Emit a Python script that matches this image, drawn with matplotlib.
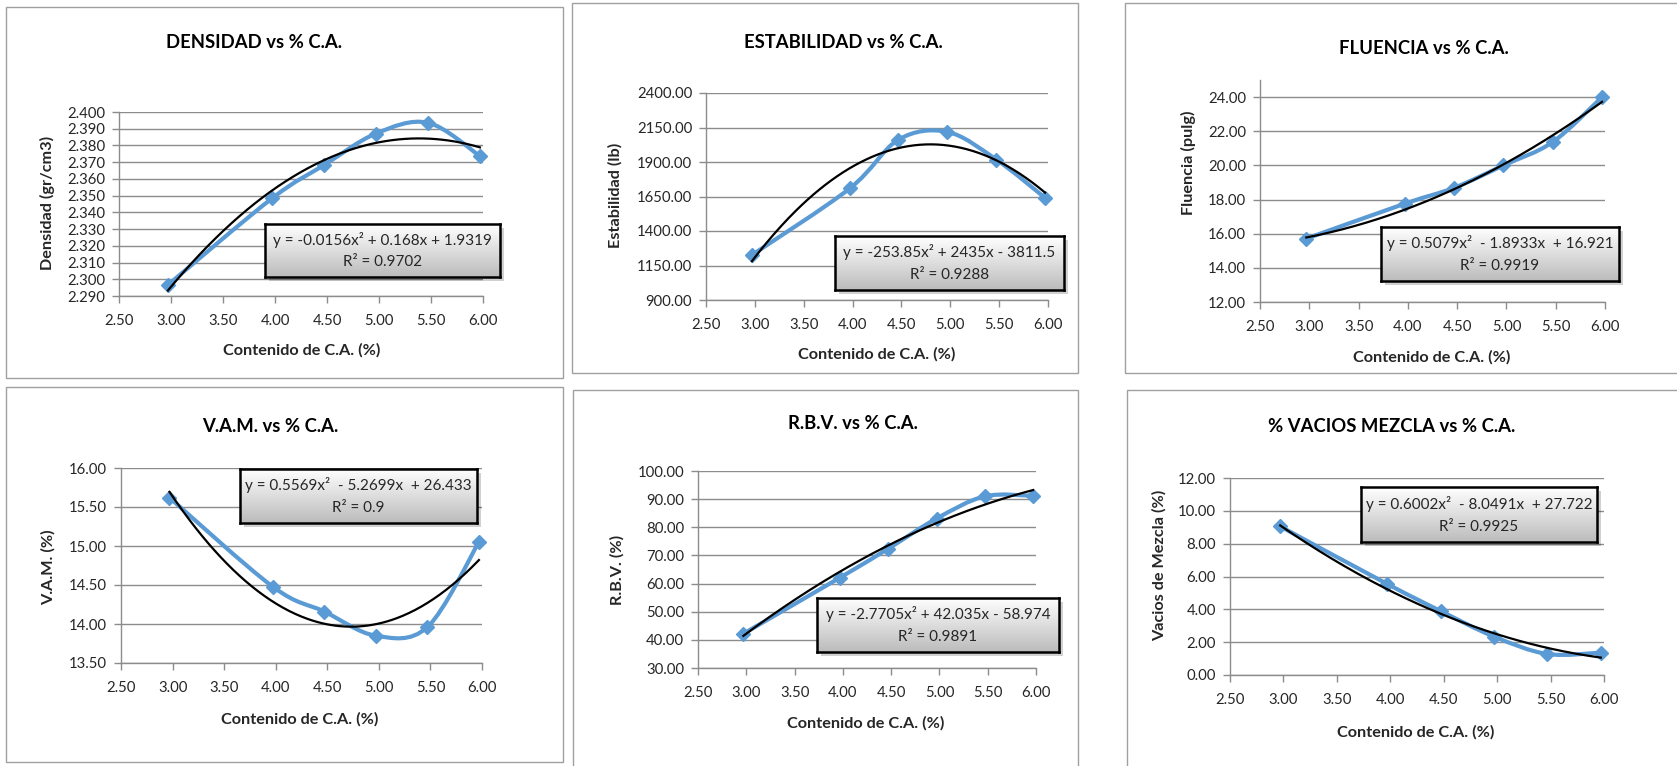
import numpy as np
import matplotlib
matplotlib.use("Agg")
import matplotlib.pyplot as plt
from matplotlib.path import Path
from matplotlib.patches import PathPatch, Rectangle
from matplotlib.ticker import FormatStrFormatter
from matplotlib.colors import LinearSegmentedColormap

plt.rcParams['font.family'] = ['Lato', 'DejaVu Sans']

# ---------------- data ----------------
ca = [2.97, 3.97, 4.47, 4.97, 5.47, 5.97]
xticks = [2.50, 3.00, 3.50, 4.00, 4.50, 5.00, 5.50, 6.00]

densidad = [2.2966, 2.3483, 2.3682, 2.3871, 2.3936, 2.3737]
estabilidad = [1226, 1708, 2062, 2118, 1918, 1640]
fluencia = [15.71, 17.76, 18.69, 20.00, 21.37, 24.00]
vam = [15.62, 14.48, 14.16, 13.85, 13.96, 15.05]
rbv = [42.2, 62.1, 72.4, 83.1, 91.0, 91.2]
vacios = [9.05, 5.55, 3.90, 2.34, 1.28, 1.36]

coef_densidad = [-0.0156, 0.168, 1.9319]
coef_estabilidad = [-253.85, 2435, -3811.5]
coef_fluencia = [0.5079, -1.8933, 16.921]
coef_vam = [0.5569, -5.2699, 26.433]
coef_rbv = [-2.7705, 42.035, -58.974]
coef_vacios = [0.6002, -8.0491, 27.722]

titles = ["DENSIDAD vs % C.A.", "ESTABILIDAD vs % C.A.", "FLUENCIA vs % C.A.",
          "V.A.M. vs % C.A.", "R.B.V. vs % C.A.", "% VACIOS MEZCLA vs % C.A."]
ylabels = ["Densidad (gr/cm3)", "Estabilidad (lb)", "Fluencia (pulg)",
           "V.A.M. (%)", "R.B.V. (%)", "Vacios de Mezcla (%)"]
xlabel = "Contenido de C.A. (%)"
eq_texts = [("y = -0.0156x\u00b2 + 0.168x + 1.9319", "R\u00b2 = 0.9702"),
            ("y = -253.85x\u00b2 + 2435x - 3811.5", "R\u00b2 = 0.9288"),
            ("y = 0.5079x\u00b2  - 1.8933x  + 16.921", "R\u00b2 = 0.9919"),
            ("y = 0.5569x\u00b2  - 5.2699x  + 26.433", "R\u00b2 = 0.9"),
            ("y = -2.7705x\u00b2 + 42.035x - 58.974", "R\u00b2 = 0.9891"),
            ("y = 0.6002x\u00b2  - 8.0491x  + 27.722", "R\u00b2 = 0.9925")]

yticks_list = [np.round(np.arange(2.29, 2.4001, 0.01), 3),
               np.arange(900, 2401, 250),
               np.arange(12, 24.01, 2),
               np.arange(13.5, 16.01, 0.5),
               np.arange(30, 100.01, 10),
               np.arange(0, 12.01, 2)]
ylims = [(2.29, 2.40), (900, 2400), (12, 25), (13.5, 16), (30, 100), (0, 12)]
yfmts = ['%.3f', '%.2f', '%.2f', '%.2f', '%.2f', '%.2f']
series = [densidad, estabilidad, fluencia, vam, rbv, vacios]
coefs = [coef_densidad, coef_estabilidad, coef_fluencia, coef_vam, coef_rbv, coef_vacios]

# ---------------- layout (pixels) ----------------
W, H = 1677, 766
frames = [(6, 7, 563, 378), (572, 3, 1078, 373), (1125, 3, 1680, 373),
          (6, 387, 563, 762), (573, 390, 1078, 770), (1127, 390, 1680, 770)]
axrects = [(119, 112, 483, 296), (706, 93, 1048, 300), (1260, 80, 1605, 302),
           (121, 468, 482, 663), (698, 471, 1036, 668), (1230, 478, 1604, 675)]
title_pos = [(254, 43), (843, 42), (1424, 49), (270, 426), (853, 423), (1392, 426)]
xlabel_pos = [(302, 350), (877, 354), (1432, 357), (300, 719), (866, 723), (1416, 732)]
ylabel_pos = [(47, 203), (615, 195), (1188, 163), (48, 567), (617, 570), (1159, 565)]
boxes = [(265, 224, 500, 277), (835, 236, 1064, 290), (1381, 227, 1619, 281),
         (240, 469, 477, 523), (817, 598, 1059, 652), (1361, 487, 1597, 542)]

BLUE = '#5B9BD5'
GRID = '#8C8C8C'
TXT = '#262626'

fig = plt.figure(figsize=(W / 100, H / 100), dpi=100)
fig.patch.set_facecolor('white')
renderer = fig.canvas.get_renderer()


def fit_size(s, target_px, weight='normal'):
    t = fig.text(0, 0, s, fontsize=10, fontweight=weight)
    w = t.get_window_extent(renderer).width
    t.remove()
    return 10 * target_px / w


FS_TITLE = fit_size("DENSIDAD vs % C.A.", 176, 'bold')
FS_XLAB = fit_size(xlabel, 158, 'bold')
FS_TICK = fit_size("2.50", 29.5)
FS_EQ = fit_size("y = -253.85x\u00b2 + 2435x - 3811.5", 212)


def fx(x):
    return x / W


def fy(y):
    return 1 - y / H


def smooth_path(xs, ys):
    pts = np.column_stack([xs, ys]).astype(float)
    n = len(pts)
    verts = [pts[0]]
    codes = [Path.MOVETO]
    for i in range(n - 1):
        p0 = pts[i - 1] if i > 0 else pts[i]
        p1 = pts[i]
        p2 = pts[i + 1]
        p3 = pts[i + 2] if i + 2 < n else pts[i + 1]
        c1 = p1 + (p2 - p0) / 6.0
        c2 = p2 - (p3 - p1) / 6.0
        verts += [c1, c2, p2]
        codes += [Path.CURVE4] * 3
    return Path(verts, codes)


grad = np.linspace(1.0, 0.0, 64).reshape(-1, 1)
cmap = LinearSegmentedColormap.from_list('g', ['#BCBCBC', '#FFFFFF'])

for k in range(6):
    # panel frame
    x0, y0, x1, y1 = frames[k]
    fig.patches.append(Rectangle((fx(x0), fy(y1)), (x1 - x0) / W, (y1 - y0) / H,
                                 transform=fig.transFigure, fill=False,
                                 edgecolor='#A0A0A0', lw=1.0))
    l, t, r, b = axrects[k]
    ax = fig.add_axes([fx(l), fy(b), (r - l) / W, (b - t) / H])
    ax.set_xlim(2.5, 6.0)
    ax.set_ylim(*ylims[k])
    ax.set_xticks(xticks)
    ax.set_yticks(yticks_list[k])
    ax.xaxis.set_major_formatter(FormatStrFormatter('%.2f'))
    ax.yaxis.set_major_formatter(FormatStrFormatter(yfmts[k]))
    for s in ['top', 'right']:
        ax.spines[s].set_visible(False)
    for s in ['left', 'bottom']:
        ax.spines[s].set_color(GRID)
        ax.spines[s].set_linewidth(1.0)
    ax.tick_params(axis='both', direction='out', length=5, width=1.0, color=GRID,
                   labelsize=FS_TICK, labelcolor=TXT, pad=5)
    ax.tick_params(axis='x', pad=8)
    ax.grid(axis='y', color=GRID, lw=1.0)
    ax.set_axisbelow(True)
    ax.patch.set_alpha(0)

    xs = ca
    ys = series[k]
    # smoothed blue series
    ax.add_patch(PathPatch(smooth_path(xs, ys), fill=False, edgecolor=BLUE,
                           lw=3.0, zorder=3, clip_on=False))
    ax.plot(xs, ys, linestyle='none', marker='D', markersize=7.5, color=BLUE,
            zorder=4, clip_on=False)
    # polynomial trendline
    xt = np.linspace(min(xs), max(xs), 200)
    ax.plot(xt, np.polyval(coefs[k], xt), color='black', lw=1.6, zorder=5,
            clip_on=False)

    # texts
    tx, ty = title_pos[k]
    fig.text(fx(tx), fy(ty), titles[k], ha='center', va='center',
             fontsize=FS_TITLE, fontweight='bold', color='black')
    lx, ly = xlabel_pos[k]
    fig.text(fx(lx), fy(ly), xlabel, ha='center', va='center',
             fontsize=FS_XLAB, fontweight='bold', color=TXT)
    vx, vy = ylabel_pos[k]
    fig.text(fx(vx), fy(vy), ylabels[k], ha='center', va='center', rotation=90,
             fontsize=FS_XLAB, fontweight='bold', color=TXT)

    # equation box with shadow and gradient
    bx0, by0, bx1, by1 = boxes[k]
    fig.patches.append(Rectangle((fx(bx0 + 4), fy(by1 + 4)), (bx1 - bx0) / W,
                                 (by1 - by0) / H, transform=fig.transFigure,
                                 facecolor='#000000', alpha=0.18, edgecolor='none',
                                 zorder=6))
    bax = fig.add_axes([fx(bx0), fy(by1), (bx1 - bx0) / W, (by1 - by0) / H],
                       zorder=10)
    bax.imshow(grad, aspect='auto', cmap=cmap, extent=(0, 1, 0, 1),
               vmin=0, vmax=1)
    bax.set_xlim(0, 1)
    bax.set_ylim(0, 1)
    bax.set_xticks([])
    bax.set_yticks([])
    for s in bax.spines.values():
        s.set_linewidth(1.8)
        s.set_color('black')
    l1, l2 = eq_texts[k]
    bax.text(0.5, 0.70, l1, ha='center', va='center', fontsize=FS_EQ, color=TXT,
             transform=bax.transAxes)
    bax.text(0.5, 0.28, l2, ha='center', va='center', fontsize=FS_EQ, color=TXT,
             transform=bax.transAxes)

fig.savefig('out.png', dpi=100)
